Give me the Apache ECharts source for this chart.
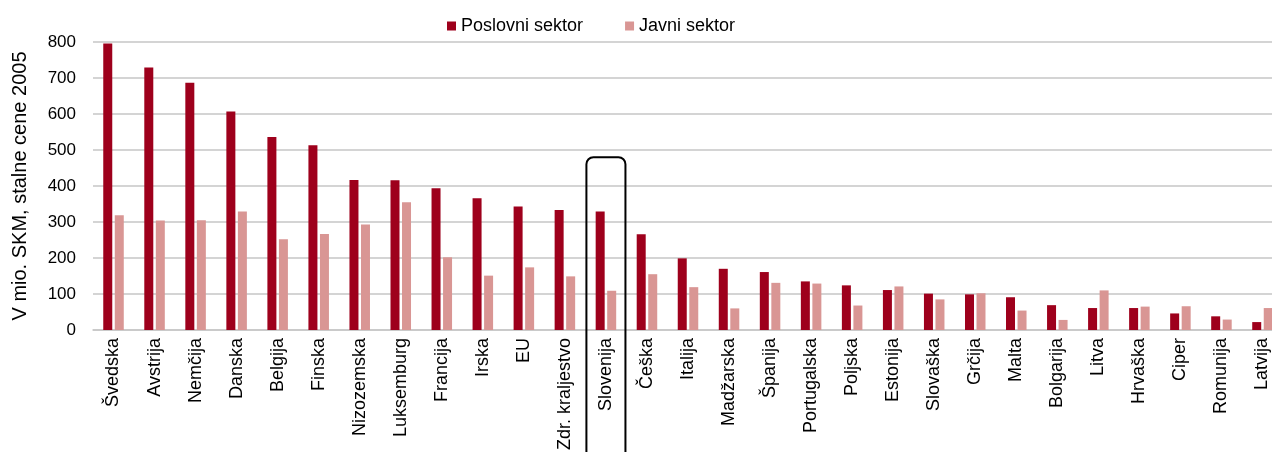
<!DOCTYPE html>
<html>
<head>
<meta charset="utf-8">
<script src="https://cdn.jsdelivr.net/npm/echarts@6/dist/echarts.min.js"></script>
<style>
  html, body { margin: 0; padding: 0; background: #fff; }
  #chart { width: 1272px; height: 452px; }
</style>
</head>
<body>
<div id="chart"></div>
<script>
var countries = ["Švedska", "Avstrija", "Nemčija", "Danska", "Belgija", "Finska", "Nizozemska",
  "Luksemburg", "Francija", "Irska", "EU", "Zdr. kraljestvo", "Slovenija", "Češka", "Italija",
  "Madžarska", "Španija", "Portugalska", "Poljska", "Estonija", "Slovaška", "Grčija", "Malta",
  "Bolgarija", "Litva", "Hrvaška", "Ciper", "Romunija", "Latvija"];
var poslovni = [796, 729, 687, 607, 536, 513, 417, 416, 394, 366, 343, 333, 329, 266, 199,
  170, 161, 135, 124, 111, 101, 99, 91, 69, 61, 61, 46, 38, 22];
var javni = [319, 304, 305, 329, 252, 267, 293, 355, 202, 151, 174, 149, 109, 155, 119,
  60, 131, 129, 68, 121, 85, 102, 54, 28, 110, 65, 66, 29, 61];
var yTicks = [0, 100, 200, 300, 400, 500, 600, 700, 800];

var font = "Liberation Sans, Arial, sans-serif";
var myChart = echarts.init(document.getElementById("chart"));

var option = {
  animation: false,
  textStyle: { fontFamily: font },
  legend: {
    left: 442,
    top: 12,
    itemWidth: 9,
    itemHeight: 9,
    itemGap: 42,
    icon: "rect",
    textStyle: { fontSize: 18, color: "#000", fontFamily: font },
    data: ["Poslovni sektor", "Javni sektor"]
  },
  grid: { left: 93, top: 42, width: 1190, height: 288, outerBoundsMode: "none", containLabel: false },
  xAxis: {
    type: "category",
    data: countries,
    axisLine: { lineStyle: { color: "#c6c6c6", width: 1.5 } },
    axisTick: { show: false },
    axisLabel: {
      rotate: 90,
      interval: 0,
      margin: 8,
      fontSize: 18,
      color: "#000",
      fontFamily: font
    }
  },
  yAxis: {
    type: "value",
    min: yTicks[0],
    max: yTicks[yTicks.length - 1],
    interval: 100,
    name: "V mio. SKM, stalne cene 2005",
    nameLocation: "middle",
    nameGap: 63,
    nameTextStyle: { fontSize: 20, color: "#000", fontFamily: font },
    axisLine: { show: false },
    axisTick: { show: false },
    axisLabel: { fontSize: 17, color: "#000", margin: 17, fontFamily: font },
    splitLine: { lineStyle: { color: "#c6c6c6", width: 1.5 } }
  },
  series: [
    {
      name: "Poslovni sektor",
      type: "bar",
      data: poslovni,
      barWidth: 9,
      barGap: "28%",
      itemStyle: { color: "#9e001c" }
    },
    {
      name: "Javni sektor",
      type: "bar",
      data: javni,
      barWidth: 9,
      itemStyle: { color: "#d99694" }
    }
  ]
};
myChart.setOption(option);

// okvir okoli Slovenije
var sloX = myChart.convertToPixel({ xAxisIndex: 0 }, "Slovenija");
var boxTop = myChart.convertToPixel({ yAxisIndex: 0 }, 480);
var band = 1190 / countries.length;
myChart.setOption({
  graphic: [{
    type: "rect",
    z: 100,
    shape: { x: sloX - band / 2 + 1, y: boxTop, width: band - 2, height: 452 - boxTop + 20, r: 7 },
    style: { fill: "none", stroke: "#000", lineWidth: 2 }
  }]
});
window.onresize = myChart.resize;
</script>
</body>
</html>
